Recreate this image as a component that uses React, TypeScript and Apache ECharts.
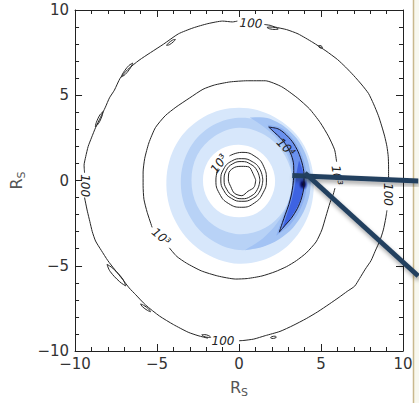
import React, { useEffect, useRef } from "react";
import * as echarts from "echarts";

const FONT = '"DejaVu Sans", "Liberation Sans", Arial, sans-serif';

// ---------- axes ----------
const AXIS_MIN = -10;
const AXIS_MAX = 10;
const AXIS_STEP = 5;
const AXIS_NAME = "{r|R}{s|S}";

// ---------- "100" contour (data units, R_S), split where labels sit ----------
const contour100A = [[9.02,-1.75],[8.95,-2.2],[8.8,-2.9],[8.6,-3.5],[8.3,-4.15],[8.05,-4.7],[7.7,-5.2],[7.35,-5.75],[7.05,-6.2],[6.6,-6.5],[6.1,-6.85],[5.5,-7.25],[4.8,-7.7],[4.1,-8.1],[3.3,-8.5],[2.5,-8.85],[1.6,-9.1],[0.9,-9.3],[0.3,-9.38],[0.0,-9.4]];
const contour100B = [[-1.9,-9.25],[-2.5,-9.1],[-3.1,-8.9],[-4.0,-8.45],[-4.85,-7.95],[-5.7,-7.3],[-6.3,-6.7],[-6.7,-6.3],[-7.1,-5.8],[-7.6,-5.2],[-8.0,-4.7],[-8.4,-4.1],[-8.75,-3.55],[-8.95,-3.0],[-9.1,-2.4],[-9.25,-1.8],[-9.38,-1.2],[-9.42,-1.0]];
const contour100C = [[-9.42,0.45],[-9.45,0.9],[-9.35,1.4],[-9.2,2.0],[-9.0,2.5],[-8.75,3.1],[-8.45,3.7],[-8.15,4.3],[-7.9,4.85],[-7.6,5.3],[-7.25,6.0],[-6.8,6.5],[-6.1,7.05],[-5.4,7.5],[-4.6,8.0],[-3.7,8.6],[-2.8,8.95],[-1.9,9.2],[-1.0,9.35],[-0.4,9.3],[-0.1,9.35]];
const contour100D = [[1.55,9.15],[1.9,9.1],[2.2,9.0],[2.9,8.85],[3.6,8.6],[4.5,8.1],[5.3,7.6],[6.0,7.1],[6.5,6.65],[7.0,6.15],[7.5,5.6],[7.9,5.1],[8.2,4.5],[8.5,3.8],[8.7,3.2],[8.88,2.6],[9.02,2.0],[9.1,1.4],[9.12,0.8],[9.12,0.1]];

// small closed "100" islands: centre, half length, orientation (deg)
const islandCenters = [[-4.15,8.1],[-6.83,6.48],[-8.53,3.59],[-7.48,-5.55],[-5.7,-7.47],[2.1,-9.2],[2.05,8.93],[-2.0,-9.12],[4.97,7.84]];
const islandHalfLengths = [0.32,0.54,0.5,0.85,0.38,0.18,0.35,0.28,0.13];
const islandAngles = [33,49,62,-48,-37,5,-8,-15,-30];

// ---------- "10^3" contour ----------
const contour1000A = [[5.85,-0.45],[5.75,-0.8],[5.55,-1.3],[5.3,-2.1],[5.05,-2.9],[4.7,-3.6],[4.1,-4.25],[3.5,-4.7],[2.9,-5.05],[2.2,-5.35],[1.4,-5.6],[0.5,-5.75],[-0.2,-5.78],[-1.3,-5.6],[-2.3,-5.3],[-3.2,-4.85],[-3.8,-4.45],[-4.25,-3.95]];
const contour1000B = [[-5.3,-2.75],[-5.6,-1.87],[-5.8,-1.1],[-5.85,-0.3],[-5.85,0.5],[-5.75,1.3],[-5.5,2.2],[-5.1,3.1],[-4.5,3.8],[-3.85,4.3],[-3.0,4.85],[-2.2,5.35],[-1.5,5.6],[-0.56,5.78],[0.5,5.85],[1.6,5.85],[2.6,5.5],[3.55,4.85],[4.3,4.2],[4.95,3.4],[5.45,2.6],[5.83,1.8],[5.95,1.1]];

// ---------- central rings (polar about ring centre) ----------
const ringCenter = [0.17, 0.03];
const ringAngles = [0,30,60,90,120,150,180,210,240,270,300,330];
const ringOuterRadii = [1.28,1.27,1.25,1.25,1.27,1.28,1.28,1.26,1.25,1.25,1.27,1.28];
const ringMiddleRadii = [1.1,1.08,1.07,1.08,1.1,1.1,1.08,1.07,1.08,1.1,1.1,1.1];
const ringInnerRadii = [0.85,0.78,0.88,0.8,0.86,0.9,0.82,0.78,0.9,0.92,0.76,0.86];
const arcAngles = [118,90,60,30,0,-30,-60,-90,-120,-150,-180,-205];
const arcRadii = [1.6,1.62,1.6,1.55,1.5,1.5,1.55,1.6,1.6,1.58,1.58,1.6];

// ---------- "10^4" crescent (polar about origin) ----------
const crescentAngles = [60,52,45,35,25,15,5,-5,-15,-25,-35,-43,-51];
const crescentOuter = [3.62,3.85,3.92,3.97,3.98,3.98,3.98,3.97,3.95,3.92,3.88,3.85,3.9];
const crescentInner = [3.62,3.55,3.55,3.55,3.52,3.45,3.35,3.3,3.3,3.35,3.45,3.62,3.9];

// ---------- filled levels (polar about origin) ----------
const bandAngles = [0,30,60,90,120,150,180,210,240,270,300,330];
const haloRadii = [4.55,4.45,4.3,4.26,4.3,4.38,4.43,4.55,4.72,4.88,4.88,4.72];
const midBandRadii = [4.2,4.0,3.78,3.68,3.6,3.55,3.55,3.65,3.85,4.08,4.15,4.2];
const innerBandRadii = [3.25,3.15,3.1,3.1,3.0,2.95,2.9,2.95,3.05,3.15,3.2,3.25];
const coreRadii = [2.2,2.15,2.1,2.1,2.15,2.2,2.2,2.2,2.2,2.16,2.2,2.2];
const ridgeAngles = [80,65,50,35,20,5,-10,-25,-40,-55,-70,-85];
const ridgeOuter = [3.75,4.05,4.2,4.3,4.35,4.38,4.38,4.35,4.3,4.22,4.15,4.1];
const ridgeInner = [3.75,3.5,3.38,3.32,3.28,3.25,3.25,3.28,3.35,3.5,3.75,4.1];
const shoulderAngles = [62,50,35,20,5,-10,-25,-40,-55];
const shoulderOuter = [3.7,4.02,4.1,4.12,4.14,4.14,4.1,4.05,3.95];
const shoulderInner = [3.7,3.48,3.45,3.4,3.3,3.25,3.28,3.45,3.95];
const peakAngles = [18,8,0,-10,-22,-35,-47];
const peakOuter = [3.85,3.93,3.95,3.93,3.88,3.84,3.88];
const peakInner = [3.85,3.55,3.45,3.4,3.42,3.55,3.88];
const maximumPoint = [3.9,-0.23];

// ---------- contour labels ----------
const labelTexts = ["100","100","100","100","10³","10³","10³","10⁴"];
const labelPositions = [[0.73,9.22],[-0.98,-9.42],[-9.42,-0.3],[9.1,-0.82],[-4.75,-3.3],[5.97,0.3],[-1.22,0.98],[2.85,1.95]];
const labelAngles = [-3,0,-90,-90,-40,-82,55,-45];

// ---------- call-out pointers ----------
const pointerStarts = [[3.25,0.29],[4.02,0.44]];
const pointerEnds = [[10.93,-0.03],[10.93,-5.6]];

const rad = (d: number) => (d * Math.PI) / 180;
const polar = (angles: number[], radii: number[], c = [0, 0]) =>
  angles.map((a, i) => [c[0] + radii[i] * Math.cos(rad(a)), c[1] + radii[i] * Math.sin(rad(a))]);
const closeLoop = (pts: number[][]) => [...pts, pts[0]];
const bandShape = (angles: number[], outer: number[], inner: number[]) => [
  ...polar(angles, outer),
  ...polar(angles, inner).reverse(),
];
const islandShape = (i: number) => {
  const [cx, cy] = islandCenters[i];
  const L = islandHalfLengths[i];
  const W = Math.max(0.06, L * 0.16);
  const a = rad(islandAngles[i]);
  const ux = Math.cos(a), uy = Math.sin(a);
  const vx = -uy, vy = ux;
  const loc = [[-1, 0], [-0.5, 0.8], [0.5, 1], [1, 0], [0.5, -0.8], [-0.5, -1], [-1, 0]];
  return loc.map(([s, t]) => [cx + s * L * ux + t * W * vx, cy + s * L * uy + t * W * vy]);
};

const LIGHT = "#d7e7fb";
const MEDIUM = "#b8d2f6";

const fillShapes = [
  { pts: polar(bandAngles, haloRadii), color: LIGHT, smooth: 0.35 },
  { pts: polar(bandAngles, midBandRadii), color: MEDIUM, smooth: 0.35 },
  { pts: bandShape(ridgeAngles, ridgeOuter, ridgeInner), color: "#a3c3f4", smooth: 0.3 },
  { pts: polar(bandAngles, innerBandRadii), color: LIGHT, smooth: 0.35 },
  { pts: polar(bandAngles, coreRadii), color: "#ffffff", smooth: 0.35 },
  { pts: bandShape(shoulderAngles, shoulderOuter, shoulderInner), color: "#8cb0f2", smooth: 0.3 },
  { pts: bandShape(crescentAngles, crescentOuter, crescentInner), color: "#6a91ee", smooth: 0.3 },
  { pts: bandShape(peakAngles, peakOuter, peakInner), color: "#3e63e2", smooth: 0.3 },
];

export default function App() {
  const ref = useRef<HTMLDivElement>(null);
  useEffect(() => {
    if (!ref.current) return;
    const chart = echarts.init(ref.current, undefined, { renderer: "svg" });

    const contourLine = (data: number[][], extra: any = {}) => ({
      type: "line",
      data,
      xAxisIndex: 0,
      yAxisIndex: 0,
      symbol: "none",
      showSymbol: false,
      smooth: 0.2,
      silent: true,
      z: 5,
      lineStyle: { color: "#262626", width: 1 },
      ...extra,
    });

    const tickAxis = (pos: string, showLabel: boolean, isX: boolean) => ({
      type: "value",
      position: pos,
      min: AXIS_MIN,
      max: AXIS_MAX,
      interval: AXIS_STEP,
      axisLine: { show: true, onZero: false, lineStyle: { color: "#222", width: 1 } },
      axisTick: { show: true, inside: true, length: 7, lineStyle: { color: "#222", width: 1 } },
      minorTick: { show: true, splitNumber: 5, length: 4, lineStyle: { color: "#222", width: 1 } },
      splitLine: { show: false },
      minorSplitLine: { show: false },
      axisLabel: {
        show: showLabel,
        fontSize: 15,
        color: "#333",
        fontFamily: FONT,
        margin: isX ? 5 : 6,
        formatter: (v: number) => String(v).replace("-", "\u2212"),
      },
      name: showLabel ? AXIS_NAME : "",
      nameLocation: "middle",
      nameGap: isX ? 26 : 37,
      nameTextStyle: {
        color: "#555",
        rich: {
          r: { fontSize: 16, fontFamily: FONT, color: "#555" },
          s: { fontSize: 11, fontFamily: FONT, color: "#555", verticalAlign: "bottom", padding: [10, 0, 0, 0] },
        },
      },
    });

    const series: any[] = [
      {
        type: "custom",
        xAxisIndex: 0,
        yAxisIndex: 0,
        silent: true,
        z: 1,
        data: fillShapes.map((_, i) => [i, 0]),
        encode: { x: 1, y: 1 },
        renderItem: (params: any, api: any) => {
          const s = fillShapes[params.dataIndex];
          return {
            type: "polygon",
            shape: { points: s.pts.map((p) => api.coord(p)), smooth: s.smooth },
            style: { fill: s.color },
          };
        },
      },
      {
        type: "custom",
        xAxisIndex: 0,
        yAxisIndex: 0,
        silent: true,
        z: 2,
        data: [maximumPoint],
        renderItem: (params: any, api: any) => {
          const c = api.coord(maximumPoint);
          const r = api.size([0.32, 0])[0];
          return {
            type: "circle",
            shape: { cx: c[0], cy: c[1], r },
            scaleY: 1.25,
            originX: c[0],
            originY: c[1],
            style: {
              fill: new echarts.graphic.RadialGradient(0.5, 0.5, 0.5, [
                { offset: 0, color: "#04042e" },
                { offset: 0.4, color: "#101878" },
                { offset: 1, color: "rgba(62,99,226,0)" },
              ]),
            },
          };
        },
      },
      contourLine(contour100A),
      contourLine(contour100B),
      contourLine(contour100C),
      contourLine(contour100D),
      ...islandCenters.map((_, i) => contourLine(islandShape(i), { smooth: 0.4 })),
      contourLine(contour1000A),
      contourLine(contour1000B),
      contourLine(closeLoop(polar(ringAngles, ringOuterRadii, ringCenter)), { smooth: 0.5 }),
      contourLine(closeLoop(polar(ringAngles, ringMiddleRadii, ringCenter)), { smooth: 0.5 }),
      contourLine(closeLoop(polar(ringAngles, ringInnerRadii, ringCenter)), { smooth: 0.3 }),
      contourLine(polar(arcAngles, arcRadii, ringCenter), { smooth: 0.5 }),
      contourLine(closeLoop(bandShape(crescentAngles, crescentOuter, crescentInner)), { smooth: 0.3, lineStyle: { color: "#15152a", width: 1 } }),
      {
        type: "custom",
        xAxisIndex: 0,
        yAxisIndex: 0,
        silent: true,
        z: 6,
        data: labelPositions,
        renderItem: (params: any, api: any) => {
          const i = params.dataIndex;
          const p = api.coord(labelPositions[i]);
          return {
            type: "text",
            x: p[0],
            y: p[1],
            rotation: rad(labelAngles[i]),
            style: {
              text: labelTexts[i],
              fill: "#222",
              fontSize: 12,
              fontStyle: "italic",
              fontFamily: FONT,
              align: "center",
              verticalAlign: "middle",
            },
          };
        },
      },
      {
        type: "custom",
        xAxisIndex: 0,
        yAxisIndex: 0,
        silent: true,
        clip: false,
        z: 10,
        data: pointerStarts,
        renderItem: (params: any, api: any) => {
          const i = params.dataIndex;
          const a = api.coord(pointerStarts[i]);
          const b = api.coord(pointerEnds[i]);
          return {
            type: "line",
            shape: { x1: a[0], y1: a[1], x2: b[0], y2: b[1] },
            style: {
              stroke: "#24405f",
              lineWidth: 5,
              lineCap: "butt",
              shadowColor: "rgba(0,0,0,0.35)",
              shadowBlur: 4,
              shadowOffsetX: 1,
              shadowOffsetY: 3,
            },
          };
        },
      },
    ];

    chart.setOption({
      animation: false,
      backgroundColor: "#ffffff",
      grid: { left: 62, right: 16, top: 10, bottom: 50, containLabel: false },
      xAxis: [tickAxis("bottom", true, true), tickAxis("top", false, true)],
      yAxis: [tickAxis("left", true, false), tickAxis("right", false, false)],
      graphic: {
        elements: [
          { type: "rect", z: -10, silent: true, shape: { x: 414, y: 0, width: 5, height: 403 }, style: { fill: "#f8f8ef" } },
          { type: "line", z: -10, silent: true, shape: { x1: 413.5, y1: 0, x2: 413.5, y2: 403 }, style: { stroke: "#c9b98d", lineWidth: 1.5 } },
        ],
      },
      series,
    });
    return () => chart.dispose();
  }, []);
  return (
    <div
      ref={ref}
      style={{ position: "fixed", left: 0, top: 0, width: 419, height: 403, background: "#fff" }}
    />
  );
}
